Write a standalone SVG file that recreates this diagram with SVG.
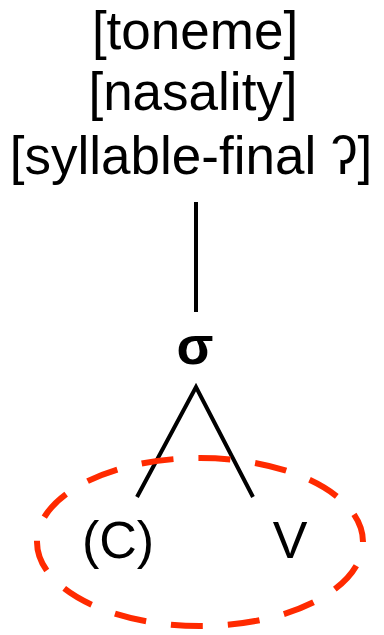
<svg xmlns="http://www.w3.org/2000/svg" width="384" height="635" viewBox="0 0 384 635">
<style>
.t{font-family:"Liberation Sans",Arial,sans-serif;font-size:53px;fill:#000;text-anchor:middle}
.c{font-family:"Liberation Sans",Arial,sans-serif;font-size:52px;fill:#000;text-anchor:middle}
.s{font-family:"Liberation Sans",Arial,sans-serif;font-size:54px;font-weight:bold;fill:#000;text-anchor:middle}
.ln{stroke:#000;stroke-width:4;fill:none}
</style>
<rect width="384" height="635" fill="#fff"/>
<g id="features">
<text class="t" x="195" y="49">[toneme]</text>
<text class="t" x="193" y="110">[nasality]</text>
<text class="t" x="191" y="174">[syllable-final ʔ]</text>
</g>
<g id="sigma"><text class="s" x="195" y="364">σ</text></g>
<g id="C"><text class="c" x="118" y="558">(C)</text></g>
<g id="V"><text class="c" x="290" y="558">V</text></g>
<g id="connectors">
<line class="ln" x1="196" y1="202" x2="196" y2="312"/>
<polyline class="ln" points="137,497 196,387 253,497"/>
</g>
<g id="group">
<ellipse cx="200" cy="542" rx="163" ry="84" fill="none" stroke="#ff2a00" stroke-width="6" stroke-dasharray="32 25" stroke-dashoffset="32"/>
</g>
</svg>
